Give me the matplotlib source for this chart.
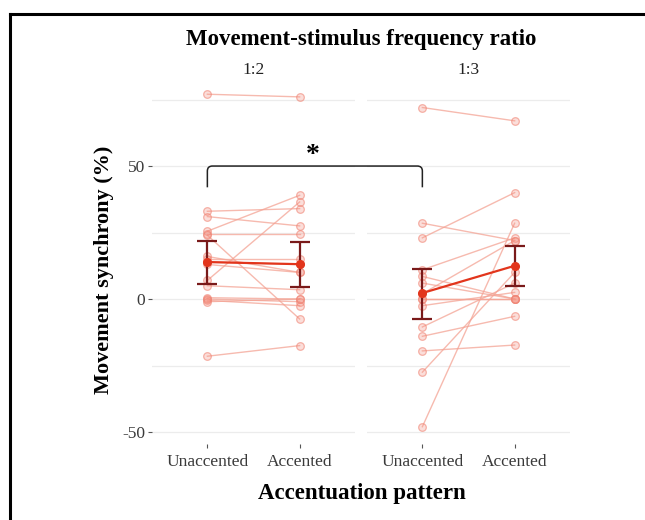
import numpy as np
import matplotlib
matplotlib.use("Agg")
import matplotlib.pyplot as plt
from matplotlib.path import Path
from matplotlib.patches import PathPatch
from matplotlib.lines import Line2D

plt.rcParams['font.family'] = ['Liberation Serif', 'DejaVu Serif']
plt.rcParams['axes.unicode_minus'] = False

# data
ratios = ['1:2', '1:3']
patterns = ['Unaccented', 'Accented']

r12_unacc = [77, 33, 31, 25.5, 24.5, 24, 16, 15, 14, 13, 7, 5, 0.5, 0, -0.5, -1, -21.5]
r12_acc   = [76, 34, 27.5, 39, 24.5, -7.5, 10, 15, 13, 10, 36.5, 3.5, 0, -1, -2.5, 0, -17.5]

r13_unacc = [72, 28.5, 23, 11, 8.5, 6, 2, 0, 0, -2.5, -10.5, -14, -19.5, -27.5, -48]
r13_acc   = [67, 22, 40, 23, 0, 0, 22, 0, 0, 2.5, 6, -6.5, -17.3, 10, 28.5]

mean_12  = [13.9, 13.1]
lower_12 = [5.6, 4.4]
upper_12 = [21.9, 21.6]

mean_13  = [2.25, 12.5]
lower_13 = [-7.5, 4.75]
upper_13 = [11.25, 20.1]

W, H = 645, 520
fig = plt.figure(figsize=(W / 100, H / 100), dpi=100)

def rect(x0, y0, x1, y1):
    return [x0 / W, 1 - y1 / H, (x1 - x0) / W, (y1 - y0) / H]

ax1 = fig.add_axes(rect(152, 78, 355, 444))
ax2 = fig.add_axes(rect(367, 78, 570, 444))

line_col = '#f4a394'
mean_col = '#e2351c'
err_col = '#7a1a1a'

panels = [
    (ax1, ratios[0], r12_unacc, r12_acc, mean_12, lower_12, upper_12),
    (ax2, ratios[1], r13_unacc, r13_acc, mean_13, lower_13, upper_13),
]

for ax, lab, unacc, acc, m, lo, hi in panels:
    for u, a in zip(unacc, acc):
        ax.plot([0, 1], [u, a], color=line_col, lw=1.0, alpha=0.75, zorder=2)
        ax.plot([0, 1], [u, a], 'o', ms=5.5, mfc=(0.96, 0.58, 0.52, 0.3),
                mec=(0.94, 0.52, 0.46, 0.6), mew=0.9, ls='none', zorder=3)
    m = np.array(m)
    ax.errorbar([0, 1], m, yerr=[m - np.array(lo), np.array(hi) - m], fmt='none',
                ecolor=err_col, elinewidth=1.6, capsize=7, capthick=1.6, zorder=4)
    ax.plot([0, 1], m, color=mean_col, lw=1.6, marker='o', ms=5.5, mfc=mean_col,
            mec=mean_col, zorder=5)

    ax.set_xlim(-0.6, 1.6)
    ax.set_ylim(-54.5, 83.1)
    ax.set_xticks([0, 1])
    ax.set_xticklabels(patterns, fontsize=12.5, color='#3a3a3a')
    ax.set_yticks([-50, 0, 50])
    ax.set_yticks([-25, 25, 75], minor=True)
    ax.grid(axis='y', which='both', color='#ececec', lw=0.9)
    ax.set_axisbelow(True)
    for s in ax.spines.values():
        s.set_visible(False)
    ax.tick_params(axis='x', length=3, width=0.8, color='#555555', pad=4)
    ax.tick_params(axis='y', which='major', length=3, width=0.8, color='#555555',
                   labelsize=12.5, labelcolor='#3a3a3a', pad=2)
    ax.tick_params(axis='y', which='minor', length=0)
    ax.set_title(lab, fontsize=12.5, color='#222222', pad=2)

ax2.tick_params(axis='y', which='major', length=0, labelleft=False)

# titles
fig.text(361 / W, 1 - 40 / H, 'Movement-stimulus frequency ratio', ha='center',
         va='center', fontsize=16.5, fontweight='bold')
fig.text(104 / W, 1 - 270 / H, 'Movement synchrony (%)', ha='center', va='center',
         rotation=90, fontsize=16, fontweight='bold')
fig.text(362 / W, 1 - 493 / H, 'Accentuation pattern', ha='center', va='center',
         fontsize=16.5, fontweight='bold')

# significance bracket between the two unaccented groups
x_left, y_top = ax1.transData.transform((0, 50))
x_right, _ = ax2.transData.transform((0, 50))
_, y_low = ax1.transData.transform((0, 42))
r = 5
verts = [(x_left, y_low), (x_left, y_top - r), (x_left, y_top), (x_left + r, y_top),
         (x_right - r, y_top), (x_right, y_top), (x_right, y_top - r), (x_right, y_low)]
codes = [Path.MOVETO, Path.LINETO, Path.CURVE3, Path.CURVE3,
         Path.LINETO, Path.CURVE3, Path.CURVE3, Path.LINETO]
inv = fig.transFigure.inverted()
verts = [tuple(inv.transform(v)) for v in verts]
fig.add_artist(PathPatch(Path(verts, codes), fill=False, edgecolor='#222222', lw=1.1,
                         transform=fig.transFigure))
fig.text(313 / W, 1 - 155 / H, '*', ha='center', va='center', fontsize=20,
         fontweight='bold')

# outer frame (left and top edges visible)
fx, fy = 10 / W, 1 - 14 / H
fig.add_artist(Line2D([fx, fx], [0, fy], color='black', lw=2.2, transform=fig.transFigure))
fig.add_artist(Line2D([fx, 1], [fy, fy], color='black', lw=2.2, transform=fig.transFigure))

fig.savefig('out.png', dpi=100)
